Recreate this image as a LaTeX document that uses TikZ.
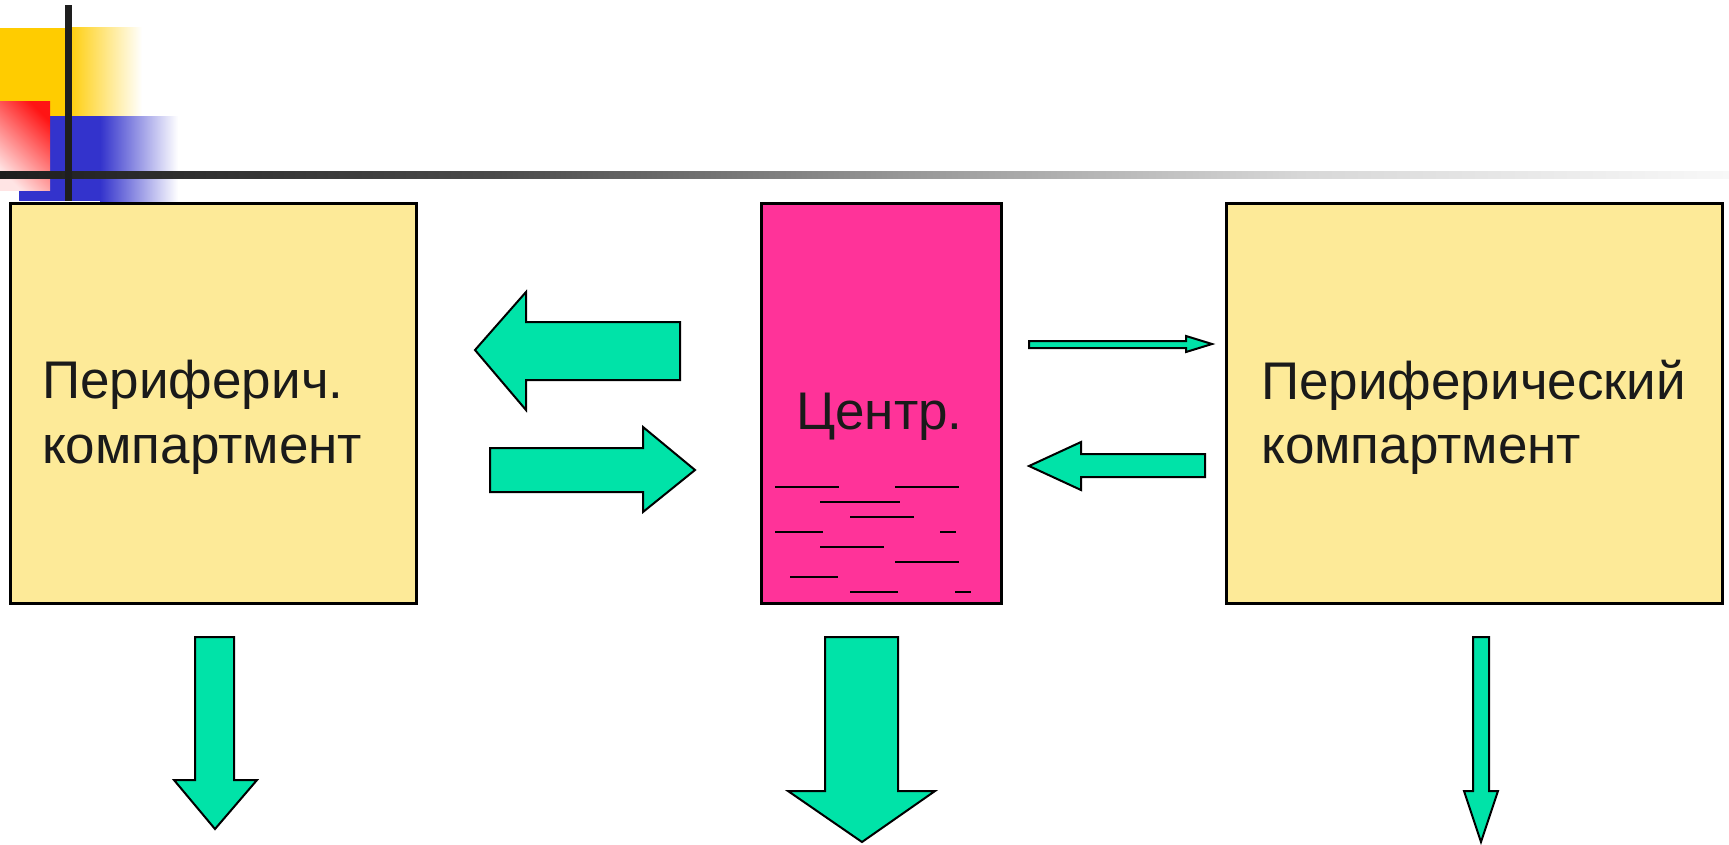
\documentclass[tikz,border=0pt]{standalone}
\usepackage{fontspec}
\setmainfont{Liberation Sans}
\definecolor{boxyellow}{RGB}{253,234,152}
\definecolor{centerpink}{RGB}{255,51,153}
\definecolor{arrowgreen}{RGB}{0,227,168}
\definecolor{decoyellow}{RGB}{255,204,0}
\definecolor{decoblue}{RGB}{51,51,204}
\definecolor{decored}{RGB}{255,20,20}
\definecolor{palered}{RGB}{255,228,228}
\definecolor{barA}{RGB}{30,30,30}
\definecolor{barB}{RGB}{75,75,75}
\definecolor{barC}{RGB}{150,150,150}
\definecolor{barD}{RGB}{215,215,215}
\definecolor{barE}{RGB}{248,248,248}
\definecolor{txt}{RGB}{26,26,26}
\begin{document}
\begin{tikzpicture}[x=1pt,y=-1pt,
  compbox/.style={draw=black, line width=2.7pt, inner sep=0pt, anchor=north west},
  blockarrow/.style={draw=black, fill=arrowgreen, line width=2pt, line join=miter},
  comptext/.style={anchor=base west, inner sep=0pt, text=txt, font=\fontsize{53}{60}\selectfont},
  tickline/.style={line width=2pt, draw=black}]
\useasboundingbox (0,0) rectangle (1729,844);

% corner decoration
\fill[decoyellow] (0,28) rectangle (66,116);
\shade[left color=decoyellow, right color=white] (66,27) rectangle (142,116);
\fill[decoblue] (19,116) rectangle (100,201);
\shade[left color=decoblue, right color=white] (100,116) rectangle (178,201);
\shade[top color=decored, bottom color=palered, shading angle=-45] (0,101) rectangle (50,190);
% horizontal bar with fading
\shade[left color=barA, right color=barB] (0,171) rectangle (500,178);
\shade[left color=barB, right color=barC] (499,171) rectangle (900,178);
\shade[left color=barC, right color=barD] (899,171) rectangle (1300,178);
\shade[left color=barD, right color=barE] (1299,171) rectangle (1729,178);
% vertical bar
\fill[barA] (65,5) rectangle (72,201);

% boxes
\node[compbox, fill=boxyellow, minimum width=406pt, minimum height=400pt] (left) at (9,202) {};
\node[compbox, fill=centerpink, minimum width=240pt, minimum height=400pt] (center) at (760,202) {};
\node[compbox, fill=boxyellow, minimum width=496pt, minimum height=400pt] (right) at (1225,202) {};

% texts
\node[comptext] (lt1) at (42,398) {Периферич.};
\node[comptext] (lt2) at (42,463) {компартмент};
\node[comptext] (rt1) at (1261,399) {Периферический};
\node[comptext] (rt2) at (1261,463) {компартмент};
\node[comptext] (ct) at (796,429) {Центр.};

% dashes in centre box
\draw[tickline] (775,487) -- (839,487) (895,487) -- (959,487);
\draw[tickline] (820,502) -- (900,502);
\draw[tickline] (850,517) -- (914,517);
\draw[tickline] (775,532) -- (823,532) (940,532) -- (956,532);
\draw[tickline] (820,547) -- (884,547);
\draw[tickline] (895,562) -- (959,562);
\draw[tickline] (790,577) -- (838,577);
\draw[tickline] (850,592) -- (898,592) (955,592) -- (971,592);

% block arrows between boxes
\draw[blockarrow] (475,350) -- (526,292) -- (526,322) -- (680,322) -- (680,380) -- (526,380) -- (526,410) -- cycle;
\draw[blockarrow] (490,448) -- (643,448) -- (643,427) -- (695,470) -- (643,512) -- (643,492) -- (490,492) -- cycle;
\draw[blockarrow] (1029,341) -- (1186,341) -- (1186,336) -- (1212,344) -- (1186,352) -- (1186,348) -- (1029,348) -- cycle;
\draw[blockarrow] (1029,466) -- (1081,442) -- (1081,454) -- (1205,454) -- (1205,477) -- (1081,477) -- (1081,490) -- cycle;

% downward arrows
\draw[blockarrow] (195,637) -- (234,637) -- (234,780) -- (257,780) -- (215,829) -- (174,780) -- (195,780) -- cycle;
\draw[blockarrow] (825,637) -- (898,637) -- (898,791) -- (935,791) -- (862,842) -- (788,791) -- (825,791) -- cycle;
\draw[blockarrow] (1473,637) -- (1489,637) -- (1489,791) -- (1498,791) -- (1481,842) -- (1464,791) -- (1473,791) -- cycle;
\end{tikzpicture}
\end{document}
